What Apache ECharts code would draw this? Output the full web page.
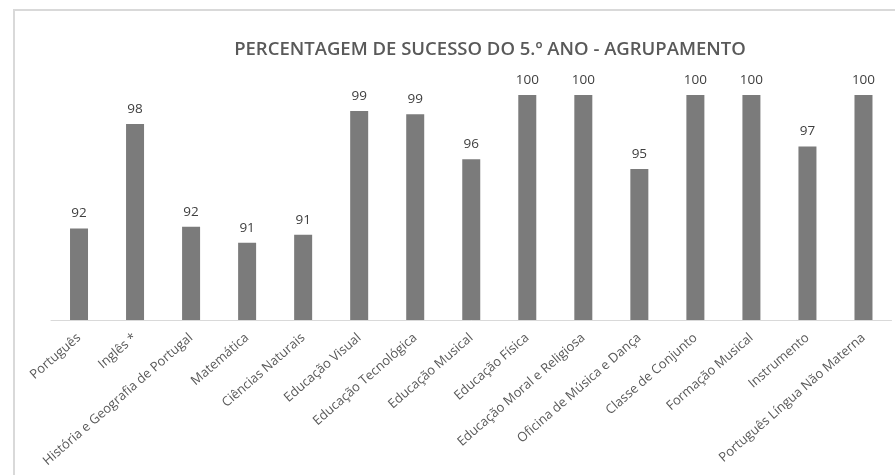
<!DOCTYPE html>
<html>
<head>
<meta charset="utf-8">
<script src="https://cdn.jsdelivr.net/npm/echarts@6/dist/echarts.min.js"></script>
<style>html,body{margin:0;padding:0;background:#fff;}#c{width:895px;height:475px;}</style>
</head>
<body>
<div id="c"></div>
<script>
var categories = ['Português','Inglês *','História e Geografia de Portugal','Matemática','Ciências Naturais','Educação Visual','Educação Tecnológica','Educação Musical','Educação Física','Educação Moral e Religiosa','Oficina de Música e Dança','Classe de Conjunto','Formação Musical','Instrumento','Português Língua Não Materna'];
var values = [91.7, 98.2, 91.8, 90.8, 91.3, 99.0, 98.8, 96.0, 100, 100, 95.4, 100, 100, 96.8, 100];
var chart = echarts.init(document.getElementById('c'));
chart.setOption({
  animation: false,
  title: {
    text: 'PERCENTAGEM DE SUCESSO DO 5.º ANO - AGRUPAMENTO',
    left: 485, top: 35, textAlign: 'center',
    textStyle: {fontFamily: 'Open Sans', fontSize: 18.5, fontWeight: 600, color: '#595959'}
  },
  graphic: [{
    type: 'rect', silent: true, z: -1,
    shape: {x: 14, y: 10, width: 900, height: 500},
    style: {fill: 'none', stroke: '#d9d9d9', lineWidth: 2}
  }],
  grid: {left: 51, right: 3.5, top: 95, bottom: 155, containLabel: false, outerBoundsMode: 'none'},
  xAxis: {
    type: 'category', data: categories,
    axisLine: {lineStyle: {color: '#d9d9d9', width: 1}},
    axisTick: {show: false},
    axisLabel: {rotate: 41, interval: 0, fontFamily: 'Open Sans', fontSize: 13, color: '#595959', margin: 16}
  },
  yAxis: {type: 'value', min: 86, max: 100, show: false, splitLine: {show: false}},
  series: [{
    type: 'bar', data: values, barWidth: 18,
    itemStyle: {color: '#7b7b7b'},
    label: {show: true, position: 'top', distance: 8, fontFamily: 'Open Sans', fontSize: 13.5, color: '#404040',
      formatter: function (p) { return Math.round(p.value); }}
  }]
});
</script>
</body>
</html>
